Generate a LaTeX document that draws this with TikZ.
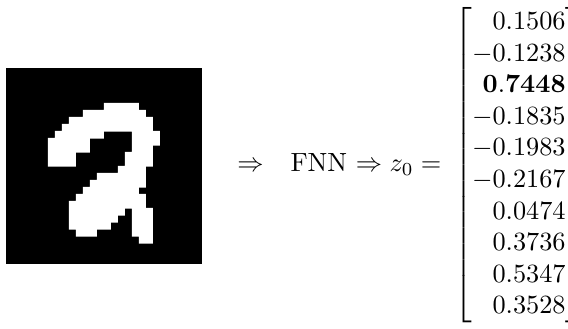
\documentclass[tikz,border=0pt]{standalone}
\usepackage{amsmath}
\usepackage{mathtools}
\usepackage{xcolor}
\usepackage{tikz}
\usetikzlibrary{positioning}

\begin{document}
\begin{tikzpicture}[x=0.38pt, y=-0.38pt]
        \useasboundingbox (0,0) rectangle (568,329);
        % 28x28 input digit, 7 units per pixel
        \fill[black] (6,68) rectangle (202,264);
        \fill[white]
          \foreach \r/\a/\b in {5/14/18, 6/11/19, 7/9/20, 8/8/20,
            9/7/13, 9/18/21, 10/6/11, 10/18/21, 11/6/11, 11/18/20,
            12/6/9, 12/17/20, 13/6/9, 13/17/20, 14/16/19, 15/13/19,
            16/12/19, 17/11/18, 18/10/19, 19/9/19, 20/9/16, 20/18/20,
            21/9/15, 21/18/20, 22/9/14, 22/18/20, 23/10/12, 23/18/20,
            24/19/20}
          {({6+7*\a},{68+7*\r}) rectangle ({13+7*\b},{75.6+7*\r})};
        % Labels
        \node[anchor=base, inner sep=0pt] (arrow) at (250.5,172) {$\Rightarrow$};
        \node[anchor=base west, inner sep=0pt] (fnn) at (290,172)
          {FNN $\Rightarrow z_0 =$};
        % Output vector
        \node[anchor=base west, inner sep=0pt] (vec) at (454,172)
          {$\begin{bmatrix*}[r]
             0.1506\\ -0.1238\\ \mathbf{0.7448}\\ -0.1835\\ -0.1983\\
             -0.2167\\ 0.0474\\ 0.3736\\ 0.5347\\ 0.3528
           \end{bmatrix*}$};
      \end{tikzpicture}
\end{document}
